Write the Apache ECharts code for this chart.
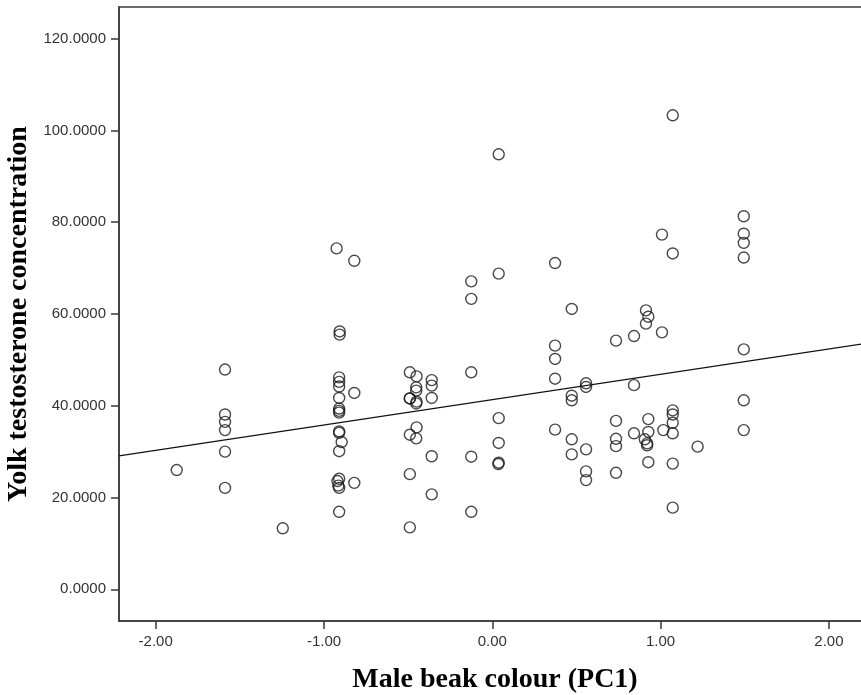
<!DOCTYPE html>
<html>
<head>
<meta charset="utf-8">
<title>Yolk testosterone vs male beak colour</title>
<script src="https://cdn.jsdelivr.net/npm/echarts@6/dist/echarts.min.js"></script>
<style>
  html, body { margin: 0; padding: 0; background: #fff; }
  #chart { width: 861px; height: 695px; }
</style>
</head>
<body>
<div id="chart"></div>
<script>
// Male beak colour (PC1 score) for each nest
const beakPC1 = [
  -1.875,
  -1.588, -1.588, -1.588, -1.588, -1.588, -1.588,
  -1.245,
  -0.925, -0.907, -0.907, -0.91, -0.91, -0.91, -0.91, -0.91, -0.91, -0.91, -0.91, -0.91, -0.91, -0.895, -0.91, -0.92, -0.915, -0.91, -0.91,
  -0.82, -0.82, -0.82,
  -0.49, -0.49, -0.49, -0.49, -0.49,
  -0.45, -0.452, -0.452, -0.49, -0.45, -0.452, -0.45, -0.452,
  -0.36, -0.36, -0.36, -0.36, -0.36,
  -0.125, -0.125, -0.125, -0.125, -0.125,
  0.038, 0.038, 0.038, 0.038, 0.038, 0.036,
  0.373, 0.373, 0.373, 0.373, 0.373,
  0.472, 0.472, 0.472, 0.472, 0.472,
  0.557, 0.557, 0.557, 0.557, 0.557,
  0.735, 0.735, 0.735, 0.735, 0.735,
  0.842, 0.842, 0.842,
  0.913, 0.927, 0.913, 0.927, 0.927, 0.906, 0.92, 0.92, 0.927,
  1.008, 1.008, 1.016,
  1.072, 1.072, 1.072, 1.072, 1.072, 1.072, 1.072, 1.072,
  1.22,
  1.494, 1.494, 1.494, 1.494, 1.494, 1.494, 1.494
];

// Yolk testosterone concentration for the same nests
const yolkT = [
  26.0,
  47.9, 38.1, 36.5, 34.7, 30.0, 22.1,
  13.3,
  74.3, 56.2, 55.5, 46.2, 45.2, 44.2, 41.7, 39.4, 38.9, 38.5, 34.4, 34.1, 30.1, 32.1, 24.1, 23.6, 22.6, 22.1, 16.9,
  71.6, 42.8, 23.2,
  47.3, 41.6, 33.7, 25.1, 13.5,
  46.4, 44.0, 43.3, 41.6, 40.9, 40.5, 35.3, 32.9,
  45.6, 44.4, 41.7, 29.0, 20.7,
  67.1, 63.3, 47.3, 28.9, 16.9,
  94.8, 68.8, 37.3, 31.9, 27.6, 27.3,
  71.1, 53.1, 50.2, 45.9, 34.8,
  61.1, 42.2, 41.2, 32.7, 29.4,
  44.9, 44.1, 30.5, 25.7, 23.8,
  54.2, 36.7, 32.8, 31.2, 25.4,
  55.2, 44.5, 34.0,
  60.8, 59.4, 57.9, 37.1, 34.3, 32.7, 31.8, 31.4, 27.7,
  77.3, 56.0, 34.7,
  103.3, 73.2, 39.0, 38.1, 36.3, 34.0, 27.4, 17.8,
  31.1,
  81.3, 77.5, 75.5, 72.3, 52.3, 41.2, 34.7
];

// Tick positions on each axis
const xTicks = [-2, -1, 0, 1, 2];
const yTicks = [0, 20, 40, 60, 80, 100, 120];

// Axis extents
const xRange = [-2.218, 2.25];
const yRange = [-6.9, 126.9];

// Least-squares fit line: yolkT = fitIntercept + fitSlope * beakPC1
const fitIntercept = 41.34;
const fitSlope = 5.52;

const points = beakPC1.map((x, i) => [x, yolkT[i]]);
const fitLine = xRange.map(x => [x, fitIntercept + fitSlope * x]);

const axisColor = '#3a3a3a';
const labelFont = { fontFamily: 'Liberation Sans, Arial, sans-serif', fontSize: 15, color: '#333' };
const titleFont = { fontFamily: 'Liberation Serif, Times New Roman, serif', fontWeight: 'bold', fontSize: 28, color: '#000' };

const chart = echarts.init(document.getElementById('chart'), null, { renderer: 'canvas' });
chart.setOption({
  animation: false,
  backgroundColor: '#fff',
  grid: {
    left: 119, top: 7, right: -10, bottom: 74,
    outerBoundsMode: 'none',
    show: true, borderColor: axisColor, borderWidth: 1.5, backgroundColor: '#fff',
    containLabel: false
  },
  xAxis: {
    type: 'value',
    min: xRange[0], max: xRange[1],
    name: 'Male beak colour (PC1)',
    nameLocation: 'middle',
    nameGap: 45,
    nameTextStyle: titleFont,
    axisLine: { show: true, onZero: false, lineStyle: { color: axisColor, width: 1.5 } },
    axisTick: { show: true, length: 8, customValues: xTicks, lineStyle: { color: axisColor, width: 1.5 } },
    axisLabel: { customValues: xTicks, margin: 13, formatter: v => v.toFixed(2), ...labelFont },
    splitLine: { show: false }
  },
  yAxis: {
    type: 'value',
    min: yRange[0], max: yRange[1],
    name: 'Yolk testosterone concentration',
    nameLocation: 'middle',
    nameGap: 78,
    nameTextStyle: titleFont,
    axisLine: { show: true, onZero: false, lineStyle: { color: axisColor, width: 1.5 } },
    axisTick: { show: true, length: 8, customValues: yTicks, lineStyle: { color: axisColor, width: 1.5 } },
    axisLabel: { customValues: yTicks, margin: 13, formatter: v => v.toFixed(4), ...labelFont },
    splitLine: { show: false }
  },
  series: [
    {
      type: 'scatter',
      data: points,
      symbol: 'circle',
      symbolSize: 11,
      itemStyle: { color: 'rgba(0,0,0,0)', borderColor: '#1a1a1a', borderWidth: 1.4 },
      emphasis: { disabled: true },
      z: 3
    },
    {
      type: 'line',
      data: fitLine,
      symbol: 'none',
      lineStyle: { color: '#111', width: 1.2 },
      emphasis: { disabled: true },
      z: 2
    }
  ]
});
</script>
</body>
</html>
